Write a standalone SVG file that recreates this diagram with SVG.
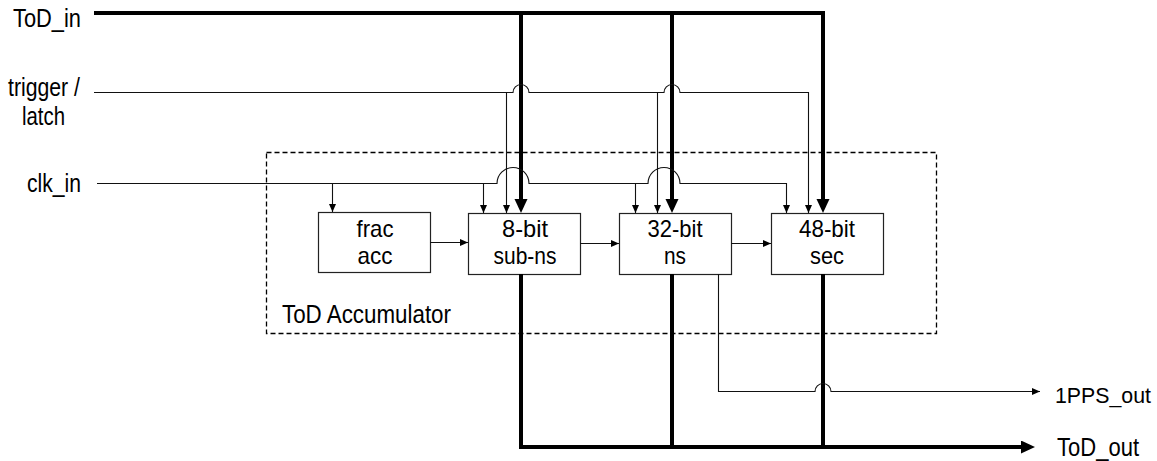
<svg xmlns="http://www.w3.org/2000/svg" width="1157" height="461" viewBox="0 0 1157 461">
<style>
text{font-family:"Liberation Sans",Arial,sans-serif;font-size:26px;fill:#000}
.mid{text-anchor:middle;font-size:24px}
.box{fill:#fff;stroke:#222;stroke-width:1.2}
.thin{fill:none;stroke:#111;stroke-width:1.1}
.thick{fill:none;stroke:#000;stroke-width:4}
.dash{fill:none;stroke:#000;stroke-width:1.3;stroke-dasharray:5 3}
</style>
<defs>
<marker id="ah" markerUnits="userSpaceOnUse" markerWidth="10" markerHeight="8" refX="8" refY="3.5" orient="auto"><path d="M0,0 L8,3.5 L0,7 z" fill="#000"/></marker>
<marker id="ahT" markerUnits="userSpaceOnUse" markerWidth="16" markerHeight="14" refX="6" refY="6.5" orient="auto"><path d="M0,0 L14,6.5 L0,13 z" fill="#000"/></marker>
</defs>
<rect id="accumulator" class="dash" x="266.5" y="152.5" width="670" height="181"/>
<g id="labels">
<text x="13" y="27" textLength="68" lengthAdjust="spacingAndGlyphs">ToD_in</text>
<text x="8" y="96" textLength="72" lengthAdjust="spacingAndGlyphs">trigger /</text>
<text x="22" y="125" textLength="43" lengthAdjust="spacingAndGlyphs">latch</text>
<text x="27" y="192" textLength="54" lengthAdjust="spacingAndGlyphs">clk_in</text>
<text x="282" y="323" textLength="169" lengthAdjust="spacingAndGlyphs">ToD Accumulator</text>
<text x="1055" y="403" textLength="96" lengthAdjust="spacingAndGlyphs" style="font-size:22px">1PPS_out</text>
<text x="1057" y="456" textLength="82" lengthAdjust="spacingAndGlyphs">ToD_out</text>
</g>
<g id="frac_acc">
<rect class="box" x="318.5" y="212.5" width="112" height="60"/>
<text class="mid" x="375" y="237" textLength="37" lengthAdjust="spacingAndGlyphs">frac</text>
<text class="mid" x="375" y="264" textLength="35" lengthAdjust="spacingAndGlyphs">acc</text>
</g>
<g id="subns">
<rect class="box" x="468.5" y="213.5" width="112" height="61"/>
<text class="mid" x="525" y="237" textLength="46" lengthAdjust="spacingAndGlyphs">8-bit</text>
<text class="mid" x="525" y="264" textLength="63" lengthAdjust="spacingAndGlyphs">sub-ns</text>
</g>
<g id="ns">
<rect class="box" x="619.5" y="213.5" width="112" height="61"/>
<text class="mid" x="675" y="237" textLength="55" lengthAdjust="spacingAndGlyphs">32-bit</text>
<text class="mid" x="675" y="264" textLength="22" lengthAdjust="spacingAndGlyphs">ns</text>
</g>
<g id="sec">
<rect class="box" x="771.5" y="213.5" width="112" height="61"/>
<text class="mid" x="827" y="237" textLength="56" lengthAdjust="spacingAndGlyphs">48-bit</text>
<text class="mid" x="827" y="264" textLength="34" lengthAdjust="spacingAndGlyphs">sec</text>
</g>
<g id="connectors">
<path class="thick" d="M94,13 H823 V205" marker-end="url(#ahT)"/>
<path class="thick" d="M521,13 V205" marker-end="url(#ahT)"/>
<path class="thick" d="M672,13 V205" marker-end="url(#ahT)"/>
<path class="thick" d="M521,274 V447"/>
<path class="thick" d="M672,274 V447"/>
<path class="thick" d="M823,274 V447"/>
<path class="thick" d="M519,447 H1027" marker-end="url(#ahT)"/>
<path class="thin" d="M94,92.5 H513 A8,8 0 0 1 529,92.5 H664 A8,8 0 0 1 680,92.5 H808.5 V213" marker-end="url(#ah)"/>
<path class="thin" d="M506.5,92.5 V213" marker-end="url(#ah)"/>
<path class="thin" d="M657.5,92.5 V213" marker-end="url(#ah)"/>
<path class="thin" d="M97,183.5 H497 A16,16 0 0 1 529,183.5 H648 A16,16 0 0 1 680,183.5 H786.5 V213" marker-end="url(#ah)"/>
<path class="thin" d="M332.5,183.5 V212" marker-end="url(#ah)"/>
<path class="thin" d="M483.5,183.5 V213" marker-end="url(#ah)"/>
<path class="thin" d="M635.5,183.5 V213" marker-end="url(#ah)"/>
<path class="thin" d="M430,242.5 H468" marker-end="url(#ah)"/>
<path class="thin" d="M580,243.5 H619" marker-end="url(#ah)"/>
<path class="thin" d="M731,243.5 H771" marker-end="url(#ah)"/>
<path class="thin" d="M718.5,274 V391.5 H815 A8,8 0 0 1 831,391.5 H1040" marker-end="url(#ah)"/>
</g>
</svg>
